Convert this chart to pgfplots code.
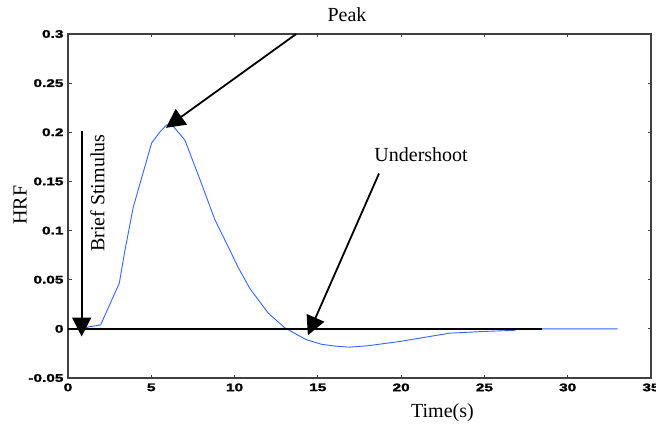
\documentclass[border=0pt]{standalone}
\usepackage{pgfplots}
\pgfplotsset{compat=1.18}
\usepackage{fontspec}
\setmainfont{Liberation Serif}
\newfontfamily\tickfont[FakeStretch=1.4,FakeBold=2]{Liberation Sans Bold}
\usetikzlibrary{arrows.meta}
\definecolor{hrfblue}{RGB}{51,102,255}

\begin{document}
\begin{tikzpicture}[x=1bp,y=1bp]
\begin{axis}[
  at={(0,0)}, anchor=south west,
  scale only axis, width=583bp, height=344bp,
  xmin=0, xmax=35, ymin=-0.05, ymax=0.3,
  xtick={0,5,...,35},
  ytick={-0.05,0,0.05,0.1,0.15,0.2,0.25,0.3},
  yticklabels={-0.05,0,0.05,0.1,0.15,0.2,0.25,0.3},
  tick align=inside, major tick length=3.5bp,
  axis line style={line width=1.4bp, black!75},
  tick style={line width=1bp, black!75},
  /pgf/number format/assume math mode=true,
  tick label style={font=\tickfont\fontsize{11bp}{12bp}\selectfont},
  xticklabel style={yshift=-2bp},
  yticklabel style={xshift=-1bp},
  clip=false,
]
% haemodynamic response function
\addplot[hrfblue, line width=0.9bp] coordinates {
  (1.0,0.000) (1.22,0.002) (1.96,0.004) (3.08,0.0465) (3.42,0.080)
  (3.92,0.124) (5.02,0.189) (5.5,0.200) (5.92,0.2075) (6.32,0.206)
  (7.02,0.192) (7.92,0.152) (8.82,0.111) (9.72,0.080) (10.2,0.063)
  (10.92,0.041) (12.02,0.016) (13.02,0.001) (14.3,-0.011) (15.2,-0.0156)
  (16.0,-0.0175) (16.9,-0.0186) (18.0,-0.0172) (19.9,-0.0129) (21.0,-0.0098)
  (22.9,-0.0044) (24.9,-0.0027) (26.8,-0.0015) (27.0,0.0) (33.0,0.0)
};
% baseline
\addplot[black, line width=1.8bp] coordinates {(0,0) (28.45,0)};
% annotation arrows
\addplot[black, line width=1.8bp, -{Triangle[length=19bp,width=19bp]}]
  coordinates {(13.7,0.300) (5.88,0.2045)};
\addplot[black, line width=1.8bp, -{Triangle[length=19bp,width=19bp]}]
  coordinates {(18.67,0.158) (14.4,-0.0065)};
\addplot[black, line width=1.8bp, -{Triangle[length=19bp,width=19bp]}]
  coordinates {(0.82,0.2015) (0.82,-0.0078)};
% labels
\node[font=\fontsize{20bp}{22bp}\selectfont] at (axis cs:16.75,0.3195) {Peak};
\node[font=\fontsize{20bp}{22bp}\selectfont] at (axis cs:21.2,0.177) {Undershoot};
\node[font=\fontsize{20bp}{22bp}\selectfont, rotate=90] at (axis cs:1.77,0.138) {Brief Stimulus};
\node[font=\fontsize{20bp}{22bp}\selectfont] at (axis cs:22.48,-0.085) {Time(s)};
\node[font=\fontsize{20bp}{22bp}\selectfont, rotate=90] at (axis cs:-2.88,0.126) {HRF};
\end{axis}
\pgfresetboundingbox
\path (-68bp,-47bp) rectangle (588bp,378bp);
\end{tikzpicture}
\end{document}
